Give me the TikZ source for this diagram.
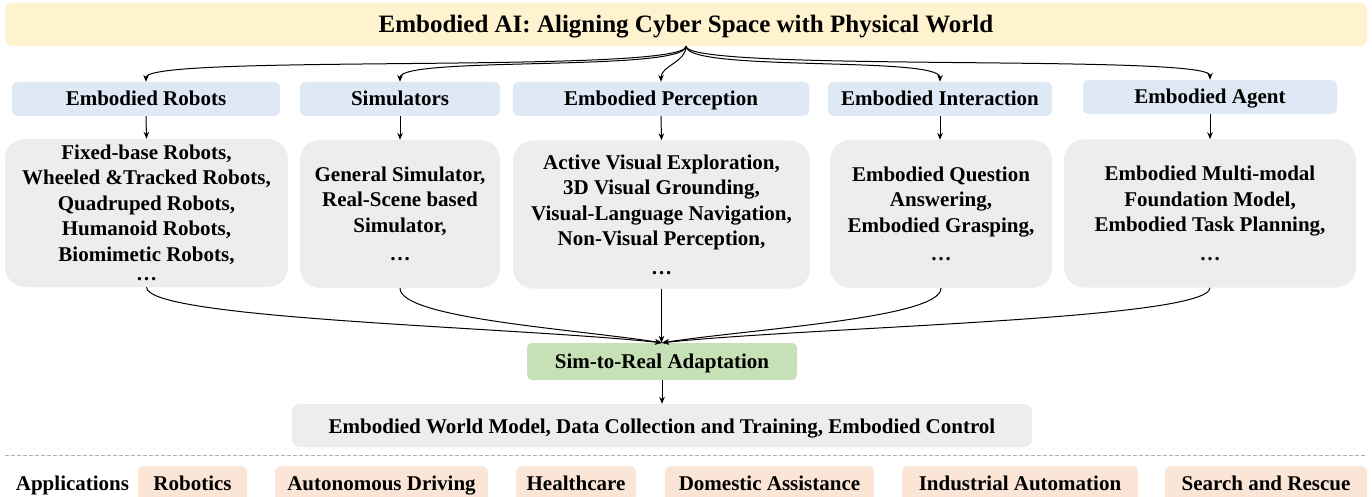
\documentclass[tikz,border=0pt]{standalone}
\usepackage{fontspec}
\setmainfont{Liberation Serif}
\usepackage{xcolor}
\usepackage{tikz}
\usetikzlibrary{arrows.meta}
\definecolor{eaiyellow}{RGB}{255, 242, 206}
\definecolor{eaiblue}{RGB}{222, 233, 245}
\definecolor{eaigray}{RGB}{237, 237, 237}
\definecolor{eaigreen}{RGB}{199, 225, 182}
\definecolor{eaisalmon}{RGB}{251, 229, 214}

\begin{document}
\begin{tikzpicture}[x=1pt, y=-1pt,
  headbox/.style={fill=eaiyellow, rounded corners=7pt, minimum width=1362pt, minimum height=43pt, inner sep=0pt,
    text height=19pt, text depth=2pt, font=\fontsize{25}{30}\selectfont\bfseries},
  catbox/.style={fill=eaiblue, rounded corners=5pt, minimum height=34pt, inner sep=0pt,
    text height=16pt, text depth=2pt, font=\fontsize{21}{25.5}\selectfont\bfseries},
  listbox/.style={fill=eaigray, rounded corners=20pt, minimum height=148pt, inner sep=0pt, align=center,
    font=\fontsize{21}{25.5}\selectfont\bfseries},
  adaptbox/.style={fill=eaigreen, rounded corners=5pt, minimum width=270pt, minimum height=37pt, inner sep=0pt,
    text height=16pt, text depth=2pt, font=\fontsize{21}{25.5}\selectfont\bfseries},
  resultbox/.style={fill=eaigray, rounded corners=8pt, minimum width=740pt, minimum height=43pt, inner sep=0pt,
    text height=17pt, text depth=2pt, font=\fontsize{21}{25.5}\selectfont\bfseries},
  appbox/.style={fill=eaisalmon, rounded corners=6pt, minimum height=36pt, inner sep=0pt,
    text height=16pt, text depth=4pt, font=\fontsize{21}{25.5}\selectfont\bfseries},
  link/.style={-{Stealth[length=7pt, width=5.5pt]}, line width=1pt},
  sepline/.style={gray!60, line width=0.8pt, dash pattern=on 4pt off 2pt}]
\useasboundingbox (0,0) rectangle (1372,497);

% Title
\node[headbox] (title) at (686,24.5) {Embodied AI: Aligning Cyber Space with Physical World};

% Five areas
\node[catbox, minimum width=268pt] (robots) at (146,99) {Embodied Robots};
\node[catbox, minimum width=200pt] (sims) at (400,99) {Simulators};
\node[catbox, minimum width=296pt] (percep) at (661,99) {Embodied Perception};
\node[catbox, minimum width=224pt] (inter) at (940,99) {Embodied Interaction};
\node[catbox, minimum width=254pt] (agent) at (1210,97) {Embodied Agent};

% What each area covers
\node[listbox, minimum width=283pt] (robotlist) at (146.5,213) {Fixed-base Robots,\\Wheeled \&Tracked Robots,\\Quadruped Robots,\\Humanoid Robots,\\Biomimetic Robots,\\[-6pt]\dots};
\node[listbox, minimum width=200pt] (simlist) at (400,214) {General Simulator,\\Real-Scene based\\Simulator,\\[3pt]\dots};
\node[listbox, minimum width=297pt] (perceplist) at (661.5,214.5) {Active Visual Exploration,\\3D Visual Grounding,\\Visual-Language Navigation,\\Non-Visual Perception,\\[3pt]\dots};
\node[listbox, minimum width=222pt] (interlist) at (941,214) {Embodied Question\\Answering,\\Embodied Grasping,\\[3pt]\dots};
\node[listbox, minimum width=292pt] (agentlist) at (1210,213.5) {Embodied Multi-modal\\Foundation Model,\\Embodied Task Planning,\\[3pt]\dots};

% Adaptation and outcome
\node[adaptbox] (sim2real) at (662,361.5) {Sim-to-Real Adaptation};
\node[resultbox] (outcome) at (662,425.5) {Embodied World Model, Data Collection and Training, Embodied Control};

% Applications
\draw[sepline] (5,455) -- (1367,455);
\node[text height=16pt, text depth=4pt, inner sep=0pt, font=\fontsize{21}{25.5}\selectfont\bfseries] (applabel) at (72.5,484) {Applications};
\node[appbox, minimum width=109pt] (app1) at (192.5,484) {Robotics};
\node[appbox, minimum width=213pt] (app2) at (381.5,484) {Autonomous Driving};
\node[appbox, minimum width=120pt] (app3) at (576,484) {Healthcare};
\node[appbox, minimum width=209pt] (app4) at (769.5,484) {Domestic Assistance};
\node[appbox, minimum width=236pt] (app5) at (1020,484) {Industrial Automation};
\node[appbox, minimum width=202pt] (app6) at (1266,484) {Search and Rescue};

% Title to areas
\draw[link] (title.south) .. controls +(0,28) and +(0,-28) .. (robots.north);
\draw[link] (title.south) .. controls +(0,26) and +(0,-26) .. (sims.north);
\draw[link] (title.south) .. controls +(0,16) and +(0,-16) .. (percep.north);
\draw[link] (title.south) .. controls +(0,26) and +(0,-26) .. (inter.north);
\draw[link] (title.south) .. controls +(0,26) and +(0,-26) .. (agent.north);

% Areas to lists
\draw[link] (robots.south) -- (robotlist.north);
\draw[link] (sims.south) -- (simlist.north);
\draw[link] (percep.south) -- (perceplist.north);
\draw[link] (inter.south) -- (inter.south |- interlist.north);
\draw[link] (agent.south) -- (agentlist.north);

% Lists to adaptation
\draw[link] (robotlist.south) .. controls +(0,32) and +(-150,-16) .. (sim2real.north);
\draw[link] (simlist.south) .. controls +(0,30) and +(-90,-14) .. (sim2real.north);
\draw[link] (perceplist.south) -- (perceplist.south |- sim2real.north);
\draw[link] (interlist.south) .. controls +(0,30) and +(90,-14) .. (sim2real.north);
\draw[link] (agentlist.south) .. controls +(0,32) and +(150,-16) .. (sim2real.north);

\draw[link] (sim2real) -- (outcome);
\end{tikzpicture}
\end{document}
